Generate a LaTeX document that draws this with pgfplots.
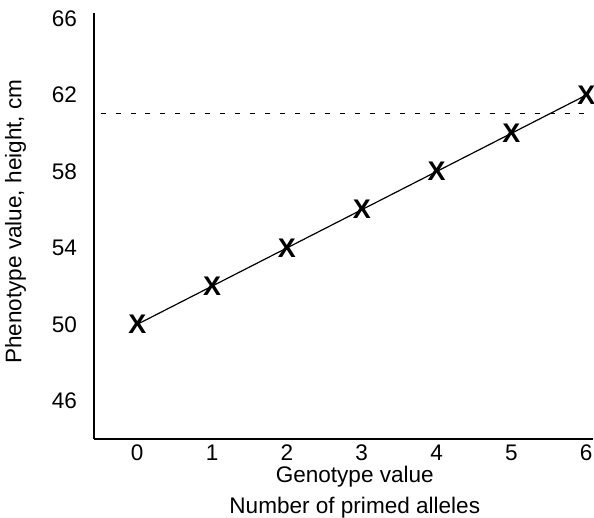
\documentclass[border=0pt]{standalone}
\usepackage{fontspec}
\setmainfont{Liberation Sans}
\usepackage{pgfplots}
\pgfplotsset{compat=1.18}

\newcommand{\lblfont}{\fontsize{11.3}{15.3}\selectfont}

\begin{document}
\begin{tikzpicture}
\begin{axis}[
  name=ax,
  scale only axis,
  width=250pt, height=213.5pt,
  xmin=-0.573, xmax=6.093,
  ymin=44, ymax=66.3,
  axis x line*=bottom,
  axis y line*=left,
  x axis line style={line width=0.8pt},
  y axis line style={line width=1.1pt},
  major tick length=0pt,
  xtick={0,1,2,3,4,5,6},
  ytick={46,50,54,58,62,66},
  /pgf/number format/assume math mode=true,
  tick label style={font=\lblfont, inner sep=0pt},
  xticklabel style={anchor=north, yshift=-2.7pt},
  yticklabel style={anchor=east, xshift=-8.5pt},
  xlabel={Genotype value\\Number of primed alleles},
  xlabel style={at={(axis description cs:0.522,0)}, anchor=north,
    yshift=-13.5pt, inner sep=0pt, align=center, font=\lblfont},
  ylabel={Phenotype value, height, cm},
  ylabel style={at={([xshift=-39.5pt]axis description cs:0,0.51)}, anchor=center,
    inner sep=0pt, font=\lblfont},
  clip marker paths=true,
]
\addplot[black, dash pattern=on 2.5pt off 5pt, line width=0.5pt]
  coordinates {(-0.49,61.03) (6.093,61.03)};
\addplot[black, line width=0.6pt, mark=text,
  text mark={\fontsize{13.5}{13.5}\selectfont\bfseries X}]
  coordinates {(0,50) (1,52) (2,54) (3,56) (4,58) (5,60) (6,62)};
\end{axis}
\path (ax.north) -- ++(0,6.5pt);
\path (ax.west) -- ++(-47.3pt,0);
\end{tikzpicture}
\end{document}
